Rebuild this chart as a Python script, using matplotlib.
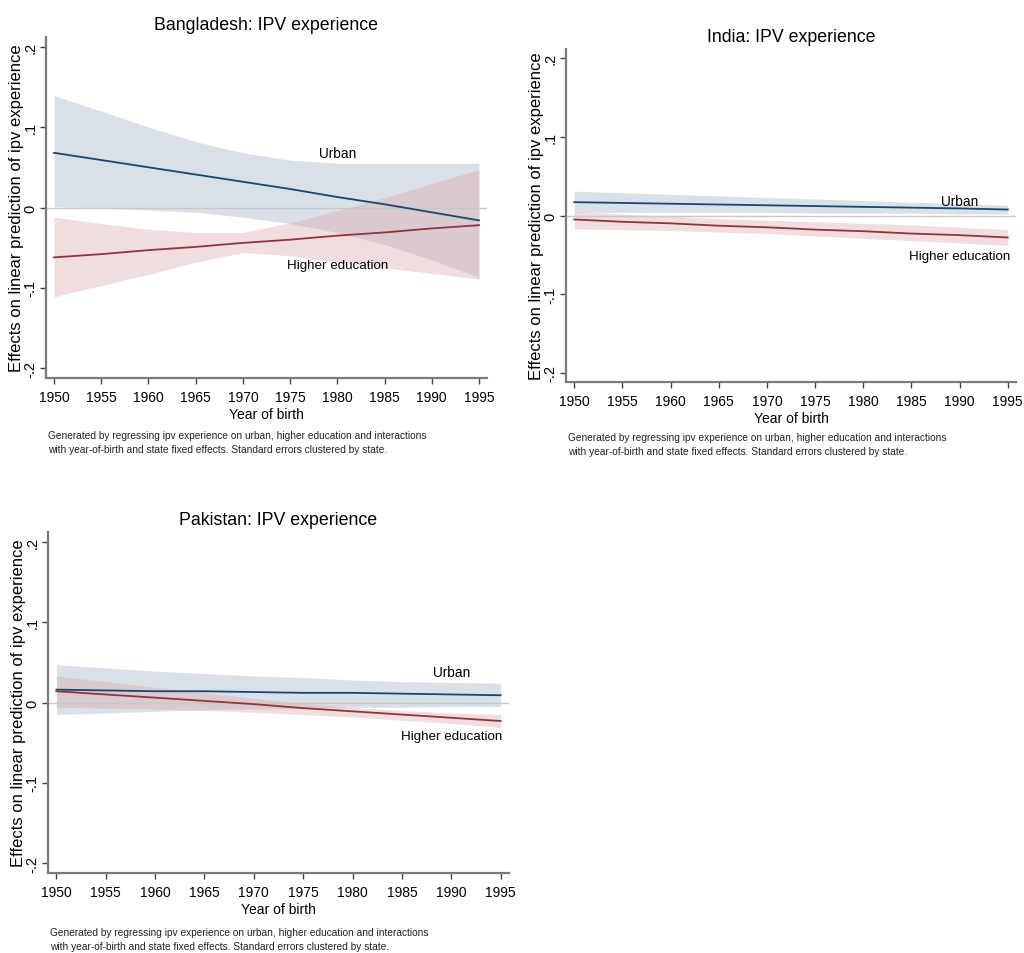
import matplotlib
matplotlib.use("Agg")
import matplotlib.pyplot as plt
import numpy as np

plt.rcParams['font.family'] = ['Liberation Sans', 'DejaVu Sans']

years = [1950, 1955, 1960, 1965, 1970, 1975, 1980, 1985, 1990, 1995]

# Bangladesh
bd_urban = [0.068, 0.059, 0.050, 0.041, 0.032, 0.023, 0.013, 0.004, -0.006, -0.016]
bd_urban_hi = [0.139, 0.120, 0.100, 0.082, 0.068, 0.059, 0.055, 0.055, 0.055, 0.055]
bd_urban_lo = [0.001, -0.001, -0.003, -0.006, -0.012, -0.020, -0.031, -0.046, -0.065, -0.087]
bd_edu = [-0.062, -0.058, -0.053, -0.049, -0.044, -0.040, -0.035, -0.031, -0.026, -0.022]
bd_edu_hi = [-0.012, -0.020, -0.027, -0.031, -0.031, -0.019, -0.004, 0.012, 0.030, 0.047]
bd_edu_lo = [-0.111, -0.097, -0.083, -0.068, -0.056, -0.060, -0.068, -0.075, -0.082, -0.089]

# India
in_urban = [0.017, 0.016, 0.015, 0.014, 0.013, 0.012, 0.011, 0.010, 0.009, 0.0076]
in_urban_hi = [0.031, 0.029, 0.027, 0.025, 0.023, 0.021, 0.019, 0.017, 0.015, 0.013]
in_urban_lo = [0.004, 0.004, 0.004, 0.004, 0.004, 0.003, 0.003, 0.003, 0.002, 0.002]
in_edu = [-0.005, -0.008, -0.010, -0.013, -0.015, -0.018, -0.020, -0.023, -0.025, -0.028]
in_edu_hi = [0.005, 0.002, -0.001, -0.004, -0.006, -0.008, -0.010, -0.012, -0.015, -0.018]
in_edu_lo = [-0.017, -0.018, -0.019, -0.021, -0.023, -0.026, -0.029, -0.032, -0.035, -0.038]

# Pakistan
pk_urban = [0.016, 0.015, 0.014, 0.014, 0.013, 0.012, 0.012, 0.011, 0.010, 0.009]
pk_urban_hi = [0.047, 0.043, 0.039, 0.036, 0.033, 0.031, 0.028, 0.026, 0.025, 0.024]
pk_urban_lo = [-0.015, -0.013, -0.011, -0.009, -0.008, -0.007, -0.006, -0.006, -0.005, -0.005]
pk_edu = [0.014, 0.010, 0.006, 0.002, -0.002, -0.007, -0.011, -0.015, -0.019, -0.023]
pk_edu_hi = [0.033, 0.026, 0.019, 0.012, 0.005, -0.001, -0.006, -0.010, -0.013, -0.015]
pk_edu_lo = [-0.006, -0.007, -0.008, -0.010, -0.012, -0.015, -0.018, -0.022, -0.026, -0.031]

yticks = [-0.2, -0.1, 0, 0.1, 0.2]
ytick_labels = ['-.2', '-.1', '0', '.1', '.2']
xticks = list(range(1950, 2000, 5))

NAVY = '#1a476f'
MAROON = '#90353b'
BAND_BLUE = '#aebccd'
BAND_RED = '#dcaaac'
AXIS_GREY = '#7a7a7a'

note = ("Generated by regressing ipv experience on urban, higher education and interactions\n"
        "with year-of-birth and state fixed effects. Standard errors clustered by state.")

W, H = 1024, 954
fig = plt.figure(figsize=(W / 100, H / 100), dpi=100)
fig.patch.set_facecolor('white')


def panel(box, title, urban, u_hi, u_lo, edu, e_hi, e_lo, urban_pos, edu_pos, note_xy):
    l, t, r, b = box
    ax = fig.add_axes([l / W, 1 - b / H, (r - l) / W, (b - t) / H])
    ax.fill_between(years, u_lo, u_hi, color=BAND_BLUE, alpha=0.45, lw=0)
    ax.fill_between(years, e_lo, e_hi, color=BAND_RED, alpha=0.40, lw=0)
    ax.axhline(0, color='#c8c8c8', lw=1.0, zorder=1)
    ax.plot(years, urban, color=NAVY, lw=1.3, zorder=3)
    ax.plot(years, edu, color=MAROON, lw=1.3, zorder=3)
    ax.text(urban_pos[0], urban_pos[1], 'Urban', ha='center', va='center', fontsize=9.8)
    ax.text(edu_pos[0], edu_pos[1], 'Higher education', ha='center', va='center', fontsize=9.6)
    ax.set_xlim(1949.15, 1995.85)
    ax.set_ylim(-0.212, 0.212)
    ax.set_xticks(xticks)
    ax.set_yticks(yticks)
    ax.set_yticklabels(ytick_labels, rotation=90, va='center')
    for s in ['top', 'right']:
        ax.spines[s].set_visible(False)
    for s in ['left', 'bottom']:
        ax.spines[s].set_color(AXIS_GREY)
        ax.spines[s].set_linewidth(1.6)
    ax.tick_params(direction='out', length=4, width=1, color='#444444')
    ax.tick_params(axis='x', labelsize=10, pad=5)
    ax.tick_params(axis='y', labelsize=10.5, pad=2)
    ax.set_xlabel('Year of birth', fontsize=10, labelpad=2)
    ax.set_ylabel('Effects on linear prediction of ipv experience', fontsize=12, labelpad=0)
    ax.set_title(title, fontsize=12.8, pad=6)
    fig.text(note_xy[0] / W, 1 - note_xy[1] / H, note, fontsize=7.3, va='top',
             ha='left', linespacing=1.45, color='#222222')
    return ax


panel((46, 38, 487, 379), 'Bangladesh: IPV experience',
      bd_urban, bd_urban_hi, bd_urban_lo, bd_edu, bd_edu_hi, bd_edu_lo,
      (1980, 0.068), (1980, -0.072), (48, 431))
panel((566, 50, 1016, 383), 'India: IPV experience',
      in_urban, in_urban_hi, in_urban_lo, in_edu, in_edu_hi, in_edu_lo,
      (1990, 0.019), (1990, -0.052), (568, 433))
panel((48, 533, 509, 874), 'Pakistan: IPV experience',
      pk_urban, pk_urban_hi, pk_urban_lo, pk_edu, pk_edu_hi, pk_edu_lo,
      (1990, 0.038), (1990, -0.042), (50, 928))

fig.savefig('out.png', dpi=100)
